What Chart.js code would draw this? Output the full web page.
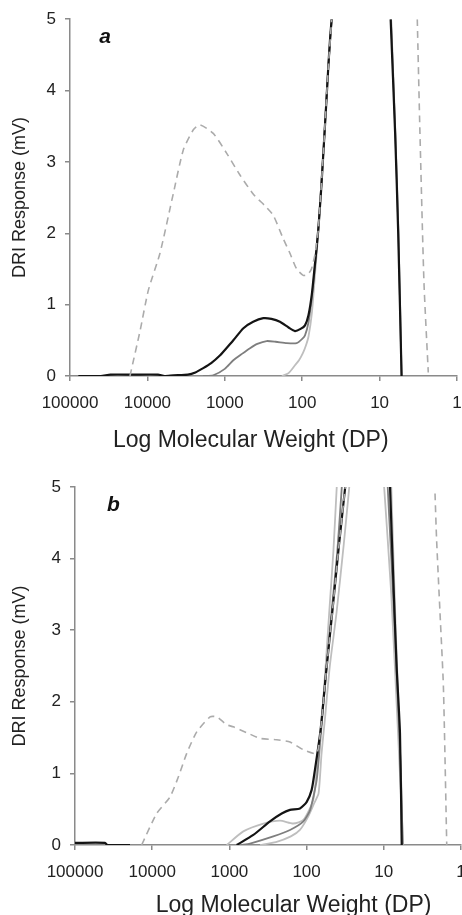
<!DOCTYPE html>
<html>
<head>
<meta charset="utf-8">
<script src="https://cdn.jsdelivr.net/npm/chart.js@4.4.1/dist/chart.umd.min.js"></script>
<style>
  html, body { margin: 0; padding: 0; background: #fff; overflow: hidden; width: 462px; height: 915px; }
  #wrapA { position: absolute; left: 0; top: 0; width: 462px; height: 458px; }
  #wrapB { position: absolute; left: 0; top: 458px; width: 480px; height: 470px; }
</style>
</head>
<body>
<div id="wrapA"><canvas id="chartA" width="462" height="458"></canvas></div>
<div id="wrapB"><canvas id="chartB" width="480" height="470"></canvas></div>
<script>
// x ticks (DP, log scale, reversed)
const mwTicks = [1, 10, 100, 1000, 10000, 100000];

// panel a
const aBlackMW  = [78000, 40000, 30000, 15000, 7300, 6000, 4600, 3000, 2400, 1900, 1500, 1150, 900, 776, 575, 430, 318, 250, 194, 150, 124, 105, 92, 83, 75, 68, 62, 57, 53, 49, 46, 43.5, 41.6, null, 7.2, 6.3, 5.75, 5.2];
const aBlackDRI = [0, 0, 0.02, 0.02, 0.02, 0, 0.01, 0.02, 0.05, 0.11, 0.18, 0.29, 0.42, 0.5, 0.67, 0.76, 0.81, 0.8, 0.76, 0.68, 0.63, 0.66, 0.71, 0.85, 1.15, 1.6, 2.05, 2.6, 3.17, 3.8, 4.33, 4.75, 5, null, 5, 3.4, 2.0, 0];
const aGrayMW   = [1900, 1410, 1000, 776, 600, 472, 380, 288, 220, 158, 118, 100, 92, 83, 75, 68, 62, 53, 46, 41.6, null, 7.1, 6.25, 5.7, 5.2];
const aGrayDRI  = [0, 0.01, 0.1, 0.22, 0.31, 0.39, 0.45, 0.49, 0.48, 0.46, 0.46, 0.52, 0.57, 0.75, 1.1, 1.55, 2.05, 3.17, 4.33, 5, null, 5, 3.4, 2.0, 0];
const aLightMW  = [183, 150, 124, 110, 98, 90, 83, 75, 68, 62, 53, 46, 41.6];
const aLightDRI = [0, 0.04, 0.15, 0.22, 0.32, 0.42, 0.55, 0.88, 1.45, 2.0, 3.17, 4.33, 5];
const aDashMW   = [16800, 12400, 9730, 6880, 4620, 3430, 2550, 2090, 1410, 944, 640, 430, 300, 236, 180, 144, 118, 97, 85, 76, 68, 62, 53, 46, 41.6, null, 3.26, 3.01, 2.67, 2.35];
const aDashDRI  = [0, 0.64, 1.2, 1.72, 2.56, 3.17, 3.45, 3.52, 3.4, 3.12, 2.82, 2.55, 2.38, 2.25, 1.95, 1.72, 1.5, 1.41, 1.42, 1.5, 1.72, 2.05, 3.17, 4.33, 5, null, 5, 3.4, 1.3, 0.05];

// panel b
const bBlackMW   = [100000, 40800, 38000, 19400, null, 805, 490, 298, 210, 164, 122, 100, 86, 78, 66, 56, 46, 38, 31.6, null, 8.3, 7.53, 6.82, 6.17, 5.86];
const bBlackDRI  = [0.03, 0.03, 0, 0, null, 0, 0.14, 0.33, 0.44, 0.49, 0.51, 0.6, 0.77, 1.05, 1.6, 2.4, 3.3, 4.2, 5, null, 5, 3.7, 2.49, 1.56, 0];
const bGrayMW    = [700, 541, 270, 164, 110, 90, 74, 66, 56, 47, 40, 35, null, 8.9, 7.2, 6.0, 5.7];
const bGrayDRI   = [0, 0.02, 0.12, 0.21, 0.33, 0.49, 0.91, 1.5, 2.4, 3.3, 4.1, 5, null, 5, 3.0, 1.0, 0];
const bLight1MW  = [1084, 660, 363, 221, 149, 110, 82, 72, 62, 51, 45, 40.7, null, 9.9, 8.0, 6.5, 5.6];
const bLight1DRI = [0, 0.19, 0.3, 0.34, 0.3, 0.35, 0.63, 1.2, 1.9, 3.24, 4.1, 5, null, 5, 3.5, 1.5, 0];
const bLight2MW  = [400, 250, 160, 122, 95, 80, 70, 64, 58, 50, 41, 33, 28, null, 8.0, 7.0, 6.1, 5.8];
const bLight2DRI = [0, 0.04, 0.12, 0.21, 0.4, 0.58, 0.72, 1.28, 1.75, 2.5, 3.24, 4.2, 5, null, 5, 3.0, 1.2, 0];
const bDashMW    = [13700, 8750, 5880, 4590, 3570, 2650, 1780, 1460, 1084, 890, 600, 402, 244, 164, 110, 74, 66, 56, 46, 38, 31.6, null, 2.17, 2.07, 1.87, 1.69, 1.53];
const bDashDRI   = [0, 0.44, 0.67, 0.95, 1.28, 1.58, 1.79, 1.79, 1.68, 1.65, 1.57, 1.49, 1.47, 1.44, 1.33, 1.28, 1.6, 2.4, 3.3, 4.2, 5, null, 4.91, 4.26, 3.24, 2.21, 0];

const FONT = '"Liberation Sans", Arial, Helvetica, sans-serif';
Chart.defaults.font.family = FONT;
Chart.defaults.color = '#222';

const pts = (mw, dri) => mw.map((m, i) => ({ x: m, y: dri[i] }));

const styles = {
  black: { borderColor: '#141414', borderWidth: 2.2 },
  gray:  { borderColor: '#7e7e7e', borderWidth: 1.8 },
  light: { borderColor: '#bebebe', borderWidth: 1.8 },
  dash:  { borderColor: '#ababab', borderWidth: 1.6, borderDash: [7, 5] }
};

function series(mw, dri, style) {
  return Object.assign({ data: pts(mw, dri), pointRadius: 0, tension: 0.2, spanGaps: false, fill: false }, styles[style]);
}

const panelLetter = {
  id: 'panelLetter',
  afterDraw(chart, args, o) {
    const { ctx, scales: { x, y } } = chart;
    ctx.save();
    ctx.font = 'italic bold 21px ' + FONT;
    ctx.fillStyle = '#111';
    ctx.textAlign = 'center';
    ctx.textBaseline = 'middle';
    ctx.fillText(o.text, x.getPixelForValue(o.mw), y.getPixelForValue(o.mv));
    ctx.restore();
  }
};

function makePanel(id, datasets, p) {
  const axisColor = '#8a8a8a';
  return new Chart(document.getElementById(id), {
    type: 'line',
    data: { datasets: datasets },
    plugins: [panelLetter],
    options: {
      responsive: false,
      animation: false,
      layout: { padding: { top: p.top, right: p.right, left: 0, bottom: 0 } },
      plugins: {
        legend: { display: false },
        tooltip: { enabled: false },
        panelLetter: p.letter
      },
      scales: {
        x: {
          type: 'logarithmic',
          reverse: true,
          min: 1,
          max: 100000,
          afterBuildTicks: s => { s.ticks = mwTicks.map(v => ({ value: v })); },
          afterFit: s => { s.height = p.xHeight; },
          ticks: { autoSkip: false, maxRotation: 0, padding: 12, font: { size: 17 }, color: '#222', callback: v => String(v) },
          grid: { display: true, drawOnChartArea: false, drawTicks: true, tickLength: 5, color: axisColor, lineWidth: 1.5 },
          border: { display: true, color: axisColor, width: 1.5 },
          title: { display: true, text: p.xTitle, font: { size: 23 }, color: '#222', padding: { top: 0, bottom: p.titlePad } }
        },
        y: {
          min: 0,
          max: 5,
          afterFit: s => { s.width = p.yWidth; },
          ticks: { stepSize: 1, padding: 9, font: { size: 17 }, color: '#222' },
          grid: { display: true, drawOnChartArea: false, drawTicks: true, tickLength: 5, color: axisColor, lineWidth: 1.5 },
          border: { display: true, color: axisColor, width: 1.5 },
          title: { display: true, text: 'DRI Response (mV)', font: { size: 18 }, color: '#222', padding: { top: 9, bottom: 0 } }
        }
      }
    }
  });
}

makePanel('chartA', [
  series(aDashMW, aDashDRI, 'dash'),
  series(aBlackMW, aBlackDRI, 'black'),
  series(aGrayMW, aGrayDRI, 'gray'),
  series(aLightMW, aLightDRI, 'light')
], {
  top: 19, right: 5, yWidth: 70, xHeight: 82, titlePad: 4,
  xTitle: 'Log Molecular Weight (DP)    ',
  letter: { text: 'a', mw: 35300, mv: 4.75 }
});

makePanel('chartB', [
  series(bDashMW, bDashDRI, 'dash'),
  series(bBlackMW, bBlackDRI, 'black'),
  series(bGrayMW, bGrayDRI, 'gray'),
  series(bLight1MW, bLight1DRI, 'light'),
  series(bLight2MW, bLight2DRI, 'light')
], {
  top: 29, right: 19, yWidth: 75, xHeight: 83, titlePad: 9,
  xTitle: '        Log Molecular Weight (DP)',
  letter: { text: 'b', mw: 31900, mv: 4.75 }
});
</script>
</body>
</html>
